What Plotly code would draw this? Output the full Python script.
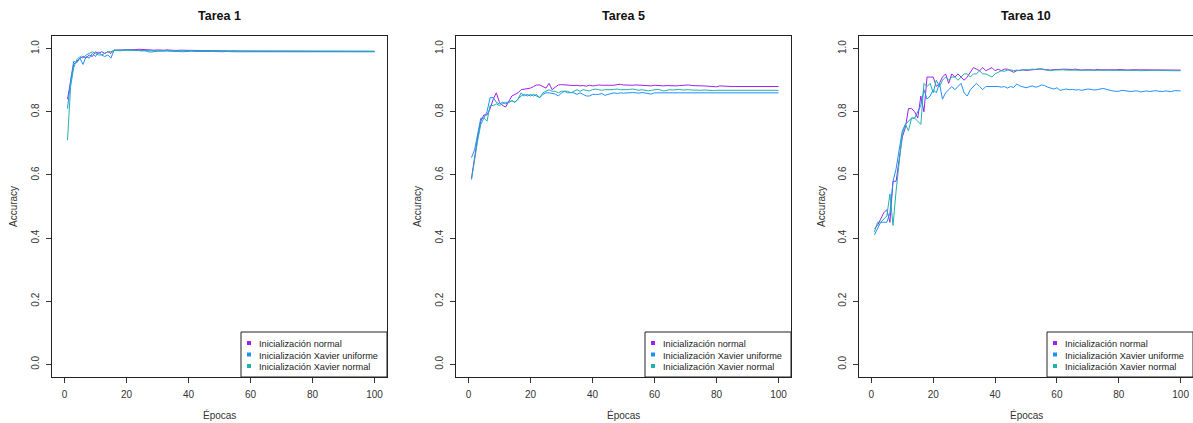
import plotly.graph_objects as go

epochs = list(range(1, 101))
titles = ["Tarea 1", "Tarea 5", "Tarea 10"]
series_names = ["Inicialización normal", "Inicialización Xavier uniforme", "Inicialización Xavier normal"]
colors = ["#A020F0", "#1E90FF", "#20B2AA"]

t1_normal = [0.84, 0.89, 0.95, 0.96, 0.97, 0.975, 0.97, 0.98, 0.975, 0.99,
             0.985, 0.99, 0.985, 0.99, 0.985, 0.995, 0.995, 0.995, 0.996, 0.995,
             0.996, 0.997, 0.997, 0.998, 0.997, 0.996, 0.995, 0.994, 0.995, 0.996,
             0.995, 0.995, 0.996, 0.995, 0.995, 0.994, 0.995, 0.995, 0.994, 0.995,
             0.995, 0.994, 0.995, 0.995, 0.994, 0.994, 0.995, 0.994, 0.993, 0.994,
             0.993, 0.993, 0.992, 0.993, 0.993, 0.992, 0.992, 0.993, 0.993, 0.992,
             0.993, 0.993, 0.992, 0.993, 0.992, 0.993, 0.993, 0.992, 0.993, 0.992,
             0.993, 0.992, 0.992, 0.993, 0.992, 0.993, 0.992, 0.993, 0.992, 0.992,
             0.993, 0.992, 0.992, 0.993, 0.992, 0.991, 0.992, 0.993, 0.992, 0.992,
             0.991, 0.992, 0.991, 0.991, 0.991, 0.991, 0.991, 0.991, 0.991, 0.991]
t1_xav_unif = [0.81, 0.90, 0.96, 0.955, 0.97, 0.95, 0.975, 0.97, 0.985, 0.975,
               0.99, 0.98, 0.975, 0.98, 0.97, 0.995, 0.995, 0.994, 0.995, 0.996,
               0.995, 0.996, 0.995, 0.994, 0.993, 0.994, 0.99, 0.989, 0.991, 0.992,
               0.992, 0.993, 0.993, 0.992, 0.992, 0.993, 0.991, 0.99, 0.991, 0.991,
               0.992, 0.991, 0.99, 0.991, 0.991, 0.99, 0.991, 0.991, 0.99, 0.99,
               0.99, 0.991, 0.99, 0.989, 0.99, 0.99, 0.991, 0.99, 0.99, 0.989,
               0.99, 0.99, 0.991, 0.99, 0.99, 0.99, 0.989, 0.99, 0.99, 0.99,
               0.991, 0.99, 0.99, 0.99, 0.989, 0.99, 0.99, 0.99, 0.991, 0.99,
               0.99, 0.99, 0.99, 0.989, 0.99, 0.99, 0.99, 0.99, 0.991, 0.99,
               0.99, 0.99, 0.99, 0.99, 0.99, 0.99, 0.99, 0.99, 0.99, 0.99]
t1_xav_norm = [0.71, 0.88, 0.94, 0.965, 0.975, 0.97, 0.98, 0.985, 0.99, 0.985,
               0.98, 0.98, 0.985, 0.99, 0.99, 0.995, 0.994, 0.993, 0.995, 0.994,
               0.995, 0.995, 0.994, 0.995, 0.994, 0.993, 0.994, 0.993, 0.994, 0.993,
               0.993, 0.994, 0.993, 0.993, 0.994, 0.993, 0.993, 0.992, 0.993, 0.993,
               0.993, 0.992, 0.993, 0.993, 0.992, 0.993, 0.993, 0.992, 0.993, 0.992,
               0.993, 0.992, 0.992, 0.993, 0.992, 0.992, 0.993, 0.992, 0.992, 0.992,
               0.993, 0.992, 0.992, 0.992, 0.993, 0.992, 0.992, 0.992, 0.992, 0.993,
               0.992, 0.992, 0.992, 0.992, 0.992, 0.993, 0.992, 0.992, 0.992, 0.992,
               0.992, 0.992, 0.993, 0.992, 0.992, 0.992, 0.992, 0.992, 0.992, 0.992,
               0.992, 0.992, 0.992, 0.992, 0.992, 0.992, 0.992, 0.992, 0.992, 0.992]

t5_normal = [0.59, 0.66, 0.72, 0.77, 0.79, 0.79, 0.81, 0.84, 0.86, 0.83,
             0.82, 0.815, 0.835, 0.85, 0.855, 0.86, 0.87, 0.872, 0.875, 0.875,
             0.88, 0.885, 0.885, 0.88, 0.875, 0.89, 0.87, 0.878, 0.885, 0.886,
             0.885, 0.885, 0.884, 0.883, 0.884, 0.882, 0.883, 0.881, 0.884, 0.882,
             0.883, 0.885, 0.884, 0.884, 0.883, 0.885, 0.884, 0.886, 0.887, 0.885,
             0.884, 0.883, 0.884, 0.885, 0.884, 0.883, 0.882, 0.883, 0.882, 0.884,
             0.883, 0.883, 0.882, 0.883, 0.882, 0.883, 0.882, 0.883, 0.884, 0.883,
             0.885, 0.883, 0.882, 0.882, 0.882, 0.882, 0.881, 0.882, 0.881, 0.879,
             0.882, 0.881, 0.881, 0.881, 0.880, 0.880, 0.880, 0.879, 0.880, 0.880,
             0.880, 0.880, 0.880, 0.880, 0.880, 0.880, 0.880, 0.880, 0.880, 0.880]
t5_xav_unif = [0.655, 0.68, 0.73, 0.78, 0.78, 0.80, 0.845, 0.845, 0.83, 0.825,
               0.83, 0.825, 0.83, 0.835, 0.83, 0.84, 0.86, 0.85, 0.855, 0.85,
               0.855, 0.85, 0.845, 0.855, 0.86, 0.86, 0.857, 0.856, 0.85, 0.86,
               0.865, 0.86, 0.861, 0.86, 0.855, 0.86, 0.855, 0.85, 0.85, 0.855,
               0.855, 0.855, 0.858, 0.852, 0.855, 0.857, 0.86, 0.858, 0.86, 0.859,
               0.86, 0.86, 0.861, 0.86, 0.859, 0.861, 0.86, 0.858, 0.856, 0.86,
               0.86, 0.861, 0.86, 0.859, 0.86, 0.861, 0.86, 0.861, 0.86, 0.859,
               0.86, 0.861, 0.86, 0.861, 0.86, 0.86, 0.861, 0.86, 0.86, 0.861,
               0.86, 0.86, 0.861, 0.86, 0.86, 0.86, 0.861, 0.86, 0.86, 0.86,
               0.86, 0.86, 0.86, 0.86, 0.86, 0.86, 0.86, 0.86, 0.86, 0.86]
t5_xav_norm = [0.585, 0.65, 0.71, 0.76, 0.78, 0.77, 0.82, 0.82, 0.825, 0.82,
               0.825, 0.83, 0.83, 0.835, 0.83, 0.84, 0.85, 0.855, 0.85, 0.855,
               0.85, 0.855, 0.845, 0.86, 0.865, 0.87, 0.865, 0.865, 0.86, 0.865,
               0.865, 0.865, 0.86, 0.865, 0.87, 0.865, 0.87, 0.868, 0.866, 0.87,
               0.872, 0.87, 0.868, 0.87, 0.869, 0.87, 0.871, 0.872, 0.87, 0.869,
               0.87, 0.871, 0.872, 0.87, 0.868, 0.87, 0.869, 0.866, 0.868, 0.87,
               0.871, 0.869, 0.866, 0.868, 0.87, 0.869, 0.87, 0.871, 0.869, 0.87,
               0.87, 0.869, 0.868, 0.869, 0.868, 0.869, 0.868, 0.868, 0.867, 0.868,
               0.868, 0.868, 0.868, 0.867, 0.868, 0.868, 0.868, 0.868, 0.867, 0.868,
               0.868, 0.868, 0.868, 0.868, 0.868, 0.868, 0.868, 0.868, 0.868, 0.868]

t10_normal = [0.43, 0.44, 0.46, 0.48, 0.49, 0.45, 0.58, 0.58, 0.65, 0.72,
              0.75, 0.81, 0.81, 0.80, 0.78, 0.85, 0.80, 0.91, 0.91, 0.91,
              0.88, 0.89, 0.91, 0.92, 0.89, 0.92, 0.91, 0.92, 0.91, 0.90,
              0.91, 0.925, 0.94, 0.935, 0.93, 0.94, 0.93, 0.935, 0.94, 0.93,
              0.935, 0.93, 0.935, 0.935, 0.93, 0.925, 0.93, 0.932, 0.933, 0.931,
              0.932, 0.934, 0.933, 0.935, 0.936, 0.934, 0.933, 0.932, 0.934, 0.933,
              0.934, 0.935, 0.934, 0.933, 0.934, 0.935, 0.933, 0.932, 0.933, 0.934,
              0.933, 0.932, 0.934, 0.933, 0.934, 0.933, 0.933, 0.932, 0.933, 0.934,
              0.933, 0.933, 0.932, 0.933, 0.933, 0.932, 0.933, 0.933, 0.932, 0.933,
              0.933, 0.932, 0.933, 0.932, 0.933, 0.933, 0.932, 0.933, 0.932, 0.932]
t10_xav_unif = [0.41, 0.43, 0.45, 0.45, 0.45, 0.48, 0.58, 0.62, 0.68, 0.74,
                0.76, 0.77, 0.78, 0.78, 0.80, 0.82, 0.87, 0.84, 0.85, 0.87,
                0.86, 0.89, 0.84, 0.86, 0.87, 0.88, 0.87, 0.88, 0.89, 0.86,
                0.85, 0.87, 0.88, 0.89, 0.88, 0.87, 0.88, 0.88, 0.88, 0.882,
                0.88, 0.878, 0.88, 0.875, 0.88, 0.877, 0.888, 0.882, 0.878, 0.876,
                0.879, 0.882, 0.878, 0.88, 0.885, 0.883, 0.878, 0.875, 0.872, 0.876,
                0.868, 0.87, 0.872, 0.87, 0.871, 0.869, 0.87, 0.868, 0.87, 0.872,
                0.871, 0.869, 0.87, 0.872, 0.874, 0.871, 0.868, 0.866, 0.865, 0.865,
                0.868, 0.866, 0.865, 0.864, 0.866, 0.866, 0.863, 0.864, 0.866, 0.864,
                0.866, 0.867, 0.865, 0.864, 0.866, 0.865, 0.864, 0.867, 0.866, 0.866]
t10_xav_norm = [0.42, 0.45, 0.45, 0.46, 0.47, 0.54, 0.44, 0.55, 0.65, 0.73,
                0.76, 0.74, 0.78, 0.78, 0.77, 0.76, 0.89, 0.88, 0.89, 0.86,
                0.90, 0.88, 0.90, 0.91, 0.90, 0.91, 0.91, 0.90, 0.91, 0.92,
                0.92, 0.91, 0.92, 0.92, 0.93, 0.92, 0.92, 0.915, 0.91, 0.92,
                0.925, 0.93, 0.928, 0.932, 0.933, 0.93, 0.932, 0.93, 0.933, 0.932,
                0.933, 0.935, 0.934, 0.936, 0.935, 0.934, 0.932, 0.93, 0.932, 0.933,
                0.932, 0.933, 0.932, 0.932, 0.933, 0.932, 0.931, 0.932, 0.933, 0.932,
                0.932, 0.931, 0.932, 0.932, 0.931, 0.932, 0.932, 0.931, 0.932, 0.931,
                0.931, 0.932, 0.931, 0.931, 0.932, 0.931, 0.93, 0.931, 0.932, 0.931,
                0.931, 0.93, 0.931, 0.931, 0.93, 0.931, 0.93, 0.93, 0.93, 0.93]

panels = [
    [t1_normal, t1_xav_unif, t1_xav_norm],
    [t5_normal, t5_xav_unif, t5_xav_norm],
    [t10_normal, t10_xav_unif, t10_xav_norm],
]

W, H = 1193, 423
x_px = [(52, 387), (456, 791), (859, 1193)]
y_top, y_bot = 36, 377
ylab_x = [14, 418, 822]


def px(xp):
    return xp / W


def py(yp):
    return 1 - yp / H


FONT = "Liberation Sans, Arial, sans-serif"
fig = go.Figure()
layout = dict(
    width=W, height=H, margin=dict(l=0, r=0, t=0, b=0),
    paper_bgcolor="white", plot_bgcolor="white",
    font=dict(family=FONT, color="#222222"),
    showlegend=False,
)
annotations = []
shapes = []
for i, (data, title) in enumerate(zip(panels, titles)):
    sfx = "" if i == 0 else str(i + 1)
    xa, ya = "x" + sfx, "y" + sfx
    for vals, name, col in zip(data, series_names, colors):
        fig.add_trace(go.Scatter(x=epochs, y=vals, mode="lines", xaxis=xa, yaxis=ya,
                                 line=dict(color=col, width=1), name=name,
                                 hoverinfo="skip"))
    left, right = x_px[i]
    layout["xaxis" + sfx] = dict(domain=[px(left), px(right)], range=[-4, 104], anchor=ya,
                                 tickvals=[0, 20, 40, 60, 80, 100], ticks="outside", ticklen=5,
                                 tickcolor="#333", showline=True, linecolor="#222", linewidth=1,
                                 mirror=True, showgrid=False, zeroline=False,
                                 ticklabelstandoff=3,
                                 tickfont=dict(size=10, color="#333"))
    layout["yaxis" + sfx] = dict(domain=[py(y_bot), py(y_top)], range=[-0.04, 1.04], anchor=xa,
                                 tickvals=[0, 0.2, 0.4, 0.6, 0.8, 1.0],
                                 ticktext=["0.0", "0.2", "0.4", "0.6", "0.8", "1.0"],
                                 tickangle=-90, ticks="outside", ticklen=5, tickcolor="#333",
                                 showline=True, linecolor="#222", linewidth=1, mirror=True,
                                 showgrid=False, zeroline=False, ticklabelstandoff=3,
                                 tickfont=dict(size=10, color="#333"))
    # legend box (drawn in the R style)
    bl = right - 146
    shapes.append(dict(type="rect", xref="paper", yref="paper",
                       x0=px(bl), x1=px(right), y0=py(y_bot), y1=py(332),
                       fillcolor="white", line=dict(color="#222", width=1), layer="above"))
    for k, (name, col) in enumerate(zip(series_names, colors)):
        yc = 344 + k * 11.5
        shapes.append(dict(type="rect", xref="paper", yref="paper",
                           x0=px(bl + 6), x1=px(bl + 10), y0=py(yc - 3), y1=py(yc + 1),
                           fillcolor=col, line=dict(width=0), layer="above"))
        annotations.append(dict(text=name, x=px(bl + 16), y=py(yc), xref="paper", yref="paper",
                                showarrow=False, xanchor="left", yanchor="middle",
                                font=dict(size=9.2, color="#222")))
    cx = px((left + right) / 2)
    annotations.append(dict(text="<b>" + title + "</b>", x=cx, y=py(16), xref="paper", yref="paper",
                            showarrow=False, font=dict(size=12.5, color="#111"),
                            xanchor="center", yanchor="middle"))
    annotations.append(dict(text="Épocas", x=cx, y=py(415), xref="paper", yref="paper",
                            showarrow=False, font=dict(size=10, color="#333"),
                            xanchor="center", yanchor="middle"))
    annotations.append(dict(text="Accuracy", x=px(ylab_x[i]), y=py(207), xref="paper", yref="paper",
                            showarrow=False, textangle=-90, font=dict(size=10, color="#333"),
                            xanchor="center", yanchor="middle"))
layout["annotations"] = annotations
layout["shapes"] = shapes
fig.update_layout(**layout)
fig.write_html("out.html")
